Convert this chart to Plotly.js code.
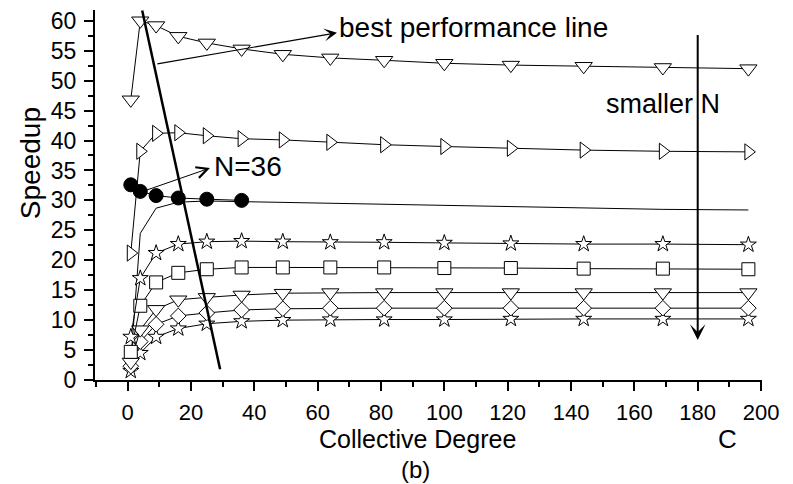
<!DOCTYPE html>
<html>
<head>
<meta charset="utf-8">
<script src="https://cdn.plot.ly/plotly-3.0.1.min.js"></script>
<style>html,body{margin:0;padding:0;background:#fff;}#chart{width:793px;height:484px;}</style>
</head>
<body>
<div id="chart"></div>
<script>
// Collective degree C (x values)
const degreeC = [1, 4, 9, 16, 25, 36, 49, 64, 81, 100, 121, 144, 169, 196];
const degreeC36 = [1, 4, 9, 16, 25, 36];

// Speedup series, largest N at top
const speedupTriDownTop = [46.8, 60.0, 59.2, 57.4, 56.3, 55.3, 54.4, 53.8, 53.4, 52.9, 52.6, 52.4, 52.2, 52.0];
const speedupTriRight   = [21.2, 38.2, 41.2, 41.3, 40.8, 40.3, 40.1, 39.7, 39.3, 39.0, 38.7, 38.4, 38.2, 38.1];
const speedupN36        = [32.6, 31.5, 30.8, 30.4, 30.2, 30.0];
const speedupPlain      = [3.0, 24.5, 28.7, 29.7, 29.9, 29.8, 29.6, 29.45, 29.3, 29.15, 29.0, 28.7, 28.5, 28.4];
const speedupStarUpper  = [7.2, 17.0, 21.2, 22.7, 23.1, 23.2, 23.1, 23.0, 23.0, 22.9, 22.8, 22.7, 22.7, 22.6];
const speedupSquare     = [4.7, 12.4, 16.3, 17.9, 18.5, 18.8, 18.8, 18.8, 18.8, 18.7, 18.7, 18.6, 18.6, 18.5];
const speedupTriDownLow = [3.0, 8.4, 11.8, 13.4, 13.8, 14.2, 14.5, 14.6, 14.6, 14.6, 14.6, 14.6, 14.6, 14.6];
const speedupDiamond    = [2.3, 6.4, 9.3, 10.7, 11.2, 11.7, 11.9, 12.0, 12.0, 12.0, 12.0, 12.0, 12.0, 12.0];
const speedupStarLower  = [1.5, 4.5, 7.2, 8.6, 9.4, 9.8, 10.0, 10.1, 10.1, 10.1, 10.2, 10.2, 10.2, 10.2];

// Best performance line end points
const bestLineC = [4.6, 29.2];
const bestLineSpeedup = [61.7, 1.8];

// Tick labels
const xTickVals = [0, 20, 40, 60, 80, 100, 120, 140, 160, 180, 200];
const yTickVals = [0, 5, 10, 15, 20, 25, 30, 35, 40, 45, 50, 55, 60];

const FONT = 'Liberation Sans, Arial, Helvetica, sans-serif';
function hollow(symbol, size) {
  return {symbol: symbol, size: size, color: 'white', line: {color: 'black', width: 1}};
}
function series(x, y, marker) {
  const t = {
    type: 'scatter', x: x, y: y,
    mode: marker ? 'lines+markers' : 'lines',
    line: {color: 'black', width: 1}, cliponaxis: false, showlegend: false, hoverinfo: 'skip'
  };
  if (marker) t.marker = marker;
  return t;
}

const traces = [
  series(degreeC, speedupPlain),
  series(degreeC, speedupStarLower, hollow('star', 12)),
  series(degreeC, speedupDiamond, hollow('diamond', 12)),
  series(degreeC, speedupTriDownLow, hollow('triangle-down', 15)),
  series(degreeC, speedupSquare, hollow('square', 13)),
  series(degreeC, speedupStarUpper, hollow('star', 12)),
  series(degreeC36, speedupN36, {symbol: 'circle', size: 14, color: 'black', line: {color: 'black', width: 1}}),
  series(degreeC, speedupTriRight, hollow('triangle-right', 14)),
  series(degreeC, speedupTriDownTop, hollow('triangle-down', 15)),
  {type: 'scatter', x: bestLineC, y: bestLineSpeedup, mode: 'lines',
   line: {color: 'black', width: 2.5}, cliponaxis: false, showlegend: false, hoverinfo: 'skip'}
];

const axisCommon = {
  showline: true, linecolor: 'black', linewidth: 2,
  ticks: 'outside', ticklen: 9, tickwidth: 2, tickcolor: 'black',
  showgrid: false, zeroline: false,
  tickfont: {family: FONT, size: 22, color: 'black'}
};

const ann = (o) => Object.assign({xref: 'x', yref: 'y', showarrow: false, borderpad: 0,
  font: {family: FONT, size: 26, color: 'black'}}, o);

const layout = {
  width: 793, height: 484,
  margin: {l: 95, r: 31, t: 10, b: 104},
  paper_bgcolor: 'white', plot_bgcolor: 'white',
  showlegend: false,
  xaxis: Object.assign({}, axisCommon, {
    range: [-10.3, 200.3], tickvals: xTickVals, ticktext: xTickVals.map(String),
    ticklabelstandoff: 3,
    minor: {dtick: 10, tick0: 0, ticks: 'outside', ticklen: 5, tickwidth: 2, tickcolor: 'black', showgrid: false}
  }),
  yaxis: Object.assign({}, axisCommon, {
    range: [0, 61.8], tickvals: yTickVals, ticktext: yTickVals.map(String),
    ticklabelstandoff: 3, tickfont: {family: FONT, size: 23, color: 'black'},
    minor: {dtick: 2.5, tick0: 0, ticks: 'outside', ticklen: 5, tickwidth: 2, tickcolor: 'black', showgrid: false}
  }),
  annotations: [
    ann({x: 66.1, y: 58.0, ax: 9.25, ay: 52.8, axref: 'x', ayref: 'y', text: '',
         showarrow: true, arrowhead: 3, arrowwidth: 1.2, arrowsize: 1.8, arrowcolor: 'black'}),
    ann({x: 66.4, y: 58.9, text: 'best performance line', xanchor: 'left', yanchor: 'middle', font: {family: FONT, size: 28, color: 'black'}}),
    ann({x: 180, y: 6.7, ax: 180, ay: 57.7, axref: 'x', ayref: 'y', text: '',
         showarrow: true, arrowhead: 3, arrowwidth: 2, arrowsize: 1.3, arrowcolor: 'black'}),
    ann({x: 168.9, y: 46.1, text: 'smaller N', xanchor: 'center', yanchor: 'middle', font: {family: FONT, size: 27, color: 'black'}}),
    ann({x: 26.0, y: 35.4, ax: 4.8, ay: 31.5, axref: 'x', ayref: 'y', text: '',
         showarrow: true, arrowhead: 5, arrowwidth: 1, arrowsize: 2.2, arrowcolor: 'black'}),
    ann({x: 27.0, y: 35.6, text: 'N=36', xanchor: 'left', yanchor: 'middle', font: {family: FONT, size: 28, color: 'black'}}),
    ann({xref: 'paper', yref: 'paper', x: 0.4828, y: -0.1595, text: 'Collective Degree', xanchor: 'center', yanchor: 'middle', font: {family: FONT, size: 25, color: 'black'}}),
    ann({xref: 'paper', yref: 'paper', x: 0.480, y: -0.2419, text: '(b)', xanchor: 'center', yanchor: 'middle', font: {family: FONT, size: 24, color: 'black'}}),
    ann({xref: 'paper', yref: 'paper', x: 0.949, y: -0.159, text: 'C', xanchor: 'center', yanchor: 'middle'}),
    ann({xref: 'paper', yref: 'paper', x: -0.0975, y: 0.586, text: 'Speedup', textangle: -90, xanchor: 'center', yanchor: 'middle', font: {family: FONT, size: 28, color: 'black'}})
  ]
};

Plotly.newPlot('chart', traces, layout, {displayModeBar: false, staticPlot: true});
</script>
</body>
</html>
